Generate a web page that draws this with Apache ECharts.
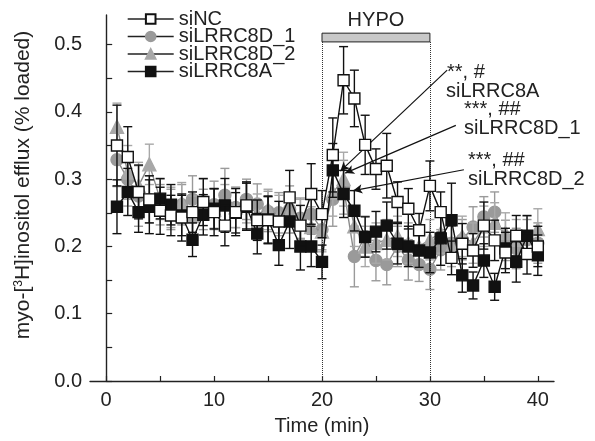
<!DOCTYPE html>
<html><head><meta charset="utf-8">
<script src="https://cdn.jsdelivr.net/npm/echarts@6/dist/echarts.min.js"></script>
<style>html,body{margin:0;padding:0;background:#fff}#c{width:595px;height:441px}</style>
</head><body><div id="c"></div>
<script>
const FONT = "'Liberation Sans', Arial, sans-serif";
const seriesNames = ['siNC', 'siLRRC8D_1', 'siLRRC8D_2', 'siLRRC8A'];
const times = [1,2,3,4,5,6,7,8,9,10,11,12,13,14,15,16,17,18,19,20,21,22,23,24,25,26,27,28,29,30,31,32,33,34,35,36,37,38,39,40];
const siNC = [0.350,0.333,0.281,0.270,0.253,0.246,0.243,0.251,0.266,0.251,0.231,0.251,0.261,0.239,0.239,0.237,0.273,0.231,0.278,0.248,0.336,0.447,0.420,0.351,0.315,0.320,0.266,0.256,0.224,0.290,0.251,0.183,0.204,0.194,0.231,0.209,0.191,0.216,0.189,0.200];
const siNCErr = [0.060,0.045,0.040,0.035,0.035,0.030,0.035,0.030,0.035,0.035,0.030,0.035,0.035,0.030,0.035,0.030,0.040,0.030,0.045,0.035,0.055,0.050,0.042,0.044,0.030,0.048,0.030,0.030,0.025,0.037,0.030,0.025,0.030,0.025,0.035,0.030,0.030,0.030,0.030,0.030];
const siD1 = [0.329,0.300,0.275,0.270,0.262,0.255,0.262,0.270,0.255,0.262,0.276,0.258,0.270,0.263,0.252,0.250,0.255,0.242,0.248,0.225,0.270,0.288,0.185,0.215,0.179,0.173,0.200,0.180,0.173,0.166,0.195,0.205,0.210,0.229,0.244,0.251,0.209,0.197,0.210,0.205];
const siD1Err = [0.040,0.040,0.045,0.035,0.030,0.030,0.030,0.035,0.030,0.035,0.040,0.030,0.030,0.030,0.030,0.030,0.035,0.030,0.030,0.030,0.040,0.040,0.045,0.030,0.030,0.030,0.030,0.030,0.025,0.030,0.030,0.030,0.030,0.030,0.030,0.030,0.030,0.030,0.030,0.030];
const siD2 = [0.378,0.310,0.290,0.322,0.270,0.258,0.265,0.245,0.270,0.255,0.262,0.258,0.265,0.248,0.255,0.246,0.250,0.240,0.229,0.222,0.280,0.300,0.230,0.200,0.205,0.210,0.215,0.205,0.200,0.210,0.220,0.200,0.215,0.205,0.230,0.235,0.220,0.210,0.215,0.226];
const siD2Err = [0.035,0.040,0.035,0.030,0.030,0.030,0.030,0.030,0.030,0.030,0.030,0.030,0.030,0.030,0.030,0.030,0.030,0.030,0.030,0.030,0.035,0.040,0.030,0.030,0.030,0.030,0.030,0.030,0.030,0.030,0.030,0.030,0.030,0.030,0.030,0.030,0.030,0.030,0.030,0.030];
const si8A = [0.259,0.281,0.251,0.259,0.271,0.262,0.246,0.210,0.247,0.256,0.261,0.250,0.259,0.219,0.240,0.202,0.237,0.200,0.200,0.177,0.313,0.278,0.253,0.214,0.222,0.231,0.204,0.200,0.194,0.191,0.212,0.239,0.157,0.142,0.179,0.140,0.197,0.177,0.216,0.187];
const si8AErr = [0.040,0.035,0.030,0.040,0.030,0.030,0.030,0.025,0.030,0.030,0.040,0.030,0.035,0.030,0.035,0.030,0.040,0.035,0.030,0.025,0.040,0.035,0.030,0.030,0.030,0.035,0.030,0.030,0.025,0.030,0.040,0.055,0.025,0.020,0.025,0.020,0.030,0.030,0.030,0.030];
const xTickLabels = [0,10,20,30,40];
const xTicks = [0,5,10,15,20,25,30,35,40];
const yTickLabels = [0,0.1,0.2,0.3,0.4,0.5];
const yTicks = [0,0.05,0.1,0.15,0.2,0.25,0.3,0.35,0.4,0.45,0.5];
const hypo = {start: 20, end: 30, low: 0.504, high: 0.517, label: 'HYPO'};
const arrows = [
  [[31.6,0.462],[21.7,0.312]],
  [[32.4,0.380],[22.15,0.309]],
  [[33.15,0.314],[22.9,0.283]]
];

function pts(vals){ return times.map((t,i)=>[t, vals[i]]); }
function errPts(vals, errs){ return times.map((t,i)=>[t, vals[i]-errs[i], vals[i]+errs[i]]); }
function errRender(color){
  return function(params, api){
    const x = api.value(0);
    const p1 = api.coord([x, api.value(1)]);
    const p2 = api.coord([x, api.value(2)]);
    const w = 4.5;
    const st = {stroke: color, lineWidth: 1.4};
    return {type:'group', children:[
      {type:'line', shape:{x1:p1[0], y1:p1[1], x2:p2[0], y2:p2[1]}, style:st},
      {type:'line', shape:{x1:p1[0]-w, y1:p1[1], x2:p1[0]+w, y2:p1[1]}, style:st},
      {type:'line', shape:{x1:p2[0]-w, y1:p2[1], x2:p2[0]+w, y2:p2[1]}, style:st}
    ]};
  };
}
function errSeries(vals, errs, color, z){
  return {type:'custom', renderItem: errRender(color), data: errPts(vals, errs),
    encode:{x:0, y:[1,2]}, z: z, silent: true};
}
function lineSeries(name, vals, symbol, size, fill, border, lineColor, z){
  return {name: name, type:'line', data: pts(vals), symbol: symbol, symbolSize: size, showSymbol: true,
    lineStyle:{color: lineColor, width: 1.4},
    itemStyle:{color: fill, borderColor: border, borderWidth: 1.4, opacity: 1},
    z: z, silent: true};
}

const chart = echarts.init(document.getElementById('c'), null, {renderer:'canvas'});
const option = {
  animation: false,
  backgroundColor: '#fff',
  textStyle: {fontFamily: FONT},
  grid: {left: 90, right: 41, top: 15, bottom: 58, containLabel: false},
  legend: {
    data: seriesNames, orient: 'vertical', left: 122, top: 4,
    itemWidth: 46, itemHeight: 12, itemGap: -2.5,
    textStyle: {fontSize: 20, fontFamily: FONT, color: '#222'},
    lineStyle: {color: '#222', width: 1.4}
  },
  xAxis: {
    type: 'value', min: -1.5, max: 41.5,
    name: 'Time (min)', nameLocation: 'middle', nameGap: 35,
    nameTextStyle: {fontSize: 20, color: '#222', fontFamily: FONT},
    axisLine: {show: true, lineStyle: {color: '#222', width: 1.4}},
    axisTick: {show: true, inside: true, length: 5, customValues: xTicks, lineStyle:{color:'#222', width: 1.2}},
    axisLabel: {customValues: xTickLabels, fontSize: 20, color: '#222', margin: 9, fontFamily: FONT},
    splitLine: {show: false}
  },
  yAxis: {
    type: 'value', min: 0, max: 0.544,
    axisLine: {show: true, lineStyle: {color: '#222', width: 1.4}},
    axisTick: {show: true, inside: true, length: 6, customValues: yTicks, lineStyle:{color:'#222', width: 1.2}},
    axisLabel: {customValues: yTickLabels, fontSize: 20, color: '#222', margin: 8, fontFamily: FONT,
      formatter: v => v.toFixed(1)},
    splitLine: {show: false}
  },
  series: [
    {type: 'line', name: 'helper', data: [], silent: true, z: 1,
      markArea: {silent: true, itemStyle: {color: '#c8c8c8', borderColor: '#222', borderWidth: 1},
        label: {show: true, position: 'top', distance: 2, fontSize: 20, color: '#222', fontFamily: FONT},
        data: [[{name: hypo.label, coord: [hypo.start, hypo.high]}, {coord: [hypo.end, hypo.low]}]]},
      markLine: {silent: true, symbol: ['none','none'], label: {show: false},
        lineStyle: {type: 'dotted', color: '#333', width: 1},
        data: [
          [{coord: [hypo.start, 0]}, {coord: [hypo.start, hypo.low]}],
          [{coord: [hypo.end, 0]}, {coord: [hypo.end, hypo.low]}]
        ]}
    },
    errSeries(siD1, siD1Err, '#9a9a9a', 2),
    lineSeries('siLRRC8D_1', siD1, 'circle', 12, '#9a9a9a', '#9a9a9a', '#8a8a8a', 3),
    errSeries(siD2, siD2Err, '#a8a8a8', 4),
    lineSeries('siLRRC8D_2', siD2, 'triangle', 13, '#a8a8a8', '#a8a8a8', '#8a8a8a', 5),
    errSeries(si8A, si8AErr, '#111', 6),
    lineSeries('siLRRC8A', si8A, 'rect', 11, '#111', '#111', '#111', 7),
    errSeries(siNC, siNCErr, '#111', 8),
    lineSeries('siNC', siNC, 'rect', 11, '#fff', '#111', '#111', 9),
    {type: 'line', name: 'arrows', data: [], silent: true, z: 20,
      markLine: {silent: true, symbol: ['none','arrow'], symbolSize: [7, 9], label: {show: false},
        lineStyle: {type: 'solid', color: '#111', width: 1.2},
        data: arrows.map(a => [{coord: a[0]}, {coord: a[1]}])}
    }
  ],
  graphic: [
    {type: 'text', x: 23, y: 185, rotation: Math.PI / 2,
      style: {text: '{a|myo-[}{s|3}{a|H]inositol efflux (% loaded)}', align: 'center', verticalAlign: 'middle',
        rich: {a: {fontSize: 21, fill: '#222', fontFamily: FONT}, s: {fontSize: 12, fill: '#222', fontFamily: FONT, verticalAlign: 'top', padding: [0,0,8,0]}}}},
    {type: 'text', left: 447, top: 62, style: {text: '**, #', font: '20px ' + FONT, fill: '#222'}},
    {type: 'text', left: 446, top: 81, style: {text: 'siLRRC8A', font: '20px ' + FONT, fill: '#222'}},
    {type: 'text', left: 464, top: 99, style: {text: '***, ##', font: '20px ' + FONT, fill: '#222'}},
    {type: 'text', left: 464, top: 118, style: {text: 'siLRRC8D_1', font: '20px ' + FONT, fill: '#222'}},
    {type: 'text', left: 468, top: 150, style: {text: '***, ##', font: '20px ' + FONT, fill: '#222'}},
    {type: 'text', left: 468, top: 169, style: {text: 'siLRRC8D_2', font: '20px ' + FONT, fill: '#222'}}
  ]
};
chart.setOption(option);
</script></body></html>
